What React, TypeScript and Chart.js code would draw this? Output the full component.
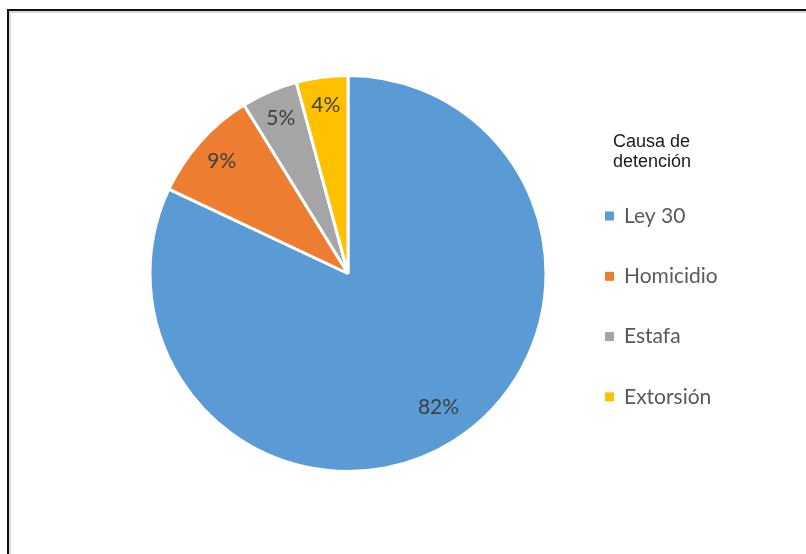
import React, { useEffect, useRef } from "react";
import { Chart, registerables } from "chart.js";

Chart.register(...registerables);

const categories = ["Ley 30", "Homicidio", "Estafa", "Extorsión"];
const values = [82.0, 9.2, 4.6, 4.2];
const colors = ["#5B9BD5", "#ED7D31", "#A5A5A5", "#FFC000"];
const legendTitle = ["Causa de", "detención"];

const labelPlugin = {
  id: "sliceLabels",
  afterDatasetsDraw(chart: any) {
    const ctx = chart.ctx;
    const meta = chart.getDatasetMeta(0);
    const data = chart.data.datasets[0].data as number[];
    const total = data.reduce((a, b) => a + b, 0);
    ctx.save();
    ctx.font = "21px Lato";
    ctx.fillStyle = "#404040";
    ctx.textAlign = "center";
    ctx.textBaseline = "middle";
    meta.data.forEach((arc: any, i: number) => {
      const { x, y, startAngle, endAngle, outerRadius } = arc.getProps(
        ["x", "y", "startAngle", "endAngle", "outerRadius"],
        true
      );
      const big = data[i] / total > 0.5;
      const mid = (startAngle + endAngle) / 2 - (big ? 0.03 : 0);
      const d = outerRadius * (big ? 0.815 : 0.855);
      const pct = Math.round((data[i] / total) * 100) + "%";
      ctx.fillText(pct, x + Math.cos(mid) * d, y + Math.sin(mid) * d);
    });
    ctx.restore();
  },
};

const legendPlugin = {
  id: "customLegend",
  afterDraw(chart: any) {
    const ctx = chart.ctx;
    const labels = chart.data.labels as string[];
    const bg = chart.data.datasets[0].backgroundColor as string[];
    ctx.save();
    ctx.font = "18px 'Liberation Sans'";
    ctx.fillStyle = "#1a1a1a";
    ctx.textAlign = "left";
    ctx.textBaseline = "alphabetic";
    legendTitle.forEach((t, i) => ctx.fillText(t, 613, 147 + i * 20));
    ctx.font = "21px Lato";
    ctx.textBaseline = "middle";
    labels.forEach((lab, i) => {
      const cy = 216 + i * 60.3;
      ctx.fillStyle = bg[i];
      ctx.fillRect(605, cy - 4.5, 9, 9);
      ctx.fillStyle = "#595959";
      ctx.fillText(lab, 624, cy);
    });
    ctx.restore();
  },
};

export default function App() {
  const ref = useRef<HTMLCanvasElement>(null);
  useEffect(() => {
    if (!ref.current) return;
    const chart = new Chart(ref.current, {
      type: "pie",
      data: {
        labels: categories,
        datasets: [
          {
            data: values,
            backgroundColor: colors,
            borderColor: "#ffffff",
            borderWidth: 3,
            radius: 198,
          },
        ],
      },
      options: {
        responsive: false,
        animation: false,
        layout: { padding: { left: 140, right: 250, top: 70, bottom: 77 } },
        plugins: {
          legend: { display: false },
          tooltip: { enabled: false },
        },
      },
      plugins: [labelPlugin, legendPlugin],
    });
    return () => chart.destroy();
  }, []);

  return (
    <div
      style={{
        position: "fixed",
        left: 0,
        top: 0,
        width: 806,
        height: 554,
        background: "#ffffff",
        overflow: "hidden",
      }}
    >
      <div
        style={{
          position: "absolute",
          left: 7,
          top: 9,
          width: 820,
          height: 560,
          borderLeft: "2px solid #111",
          borderTop: "2px solid #111",
          boxShadow: "inset 2px 2px 0 #d8d8d8",
          boxSizing: "border-box",
        }}
      />
      <canvas
        ref={ref}
        width={806}
        height={554}
        style={{ position: "absolute", left: 0, top: 0 }}
      />
    </div>
  );
}
